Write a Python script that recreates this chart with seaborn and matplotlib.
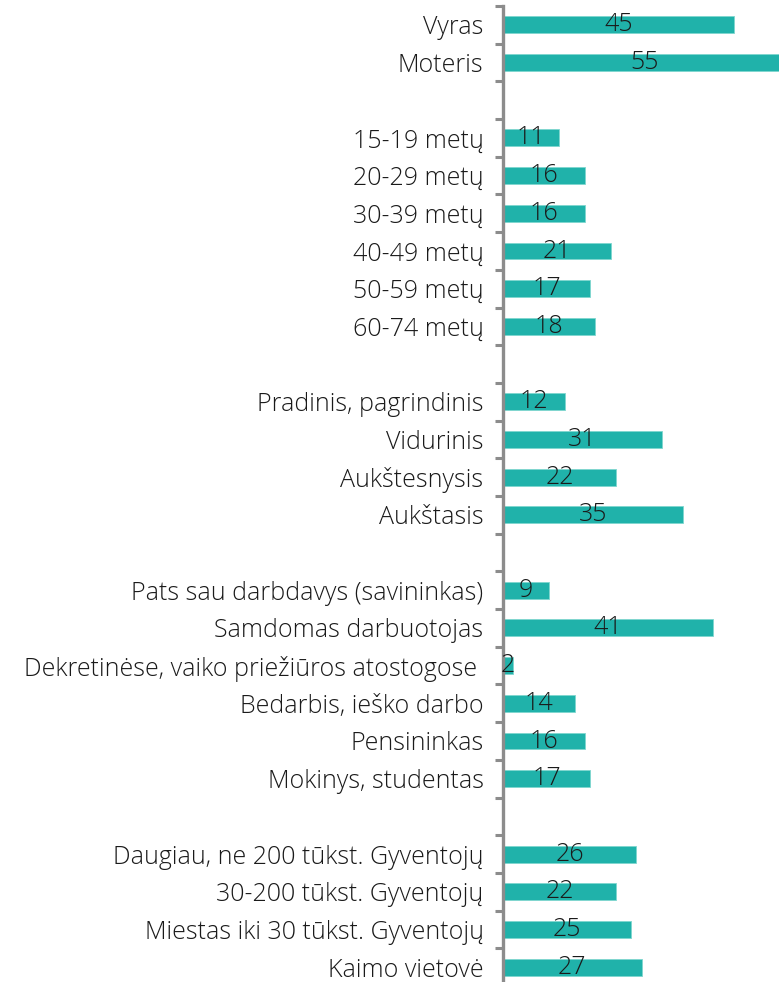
import numpy as np
import pandas as pd
import seaborn as sns
import matplotlib.pyplot as plt
from matplotlib.ticker import FixedLocator

gender = ["Vyras", "Moteris"]
gender_val = [45, 55]
age = ["15-19 metų", "20-29 metų", "30-39 metų", "40-49 metų", "50-59 metų", "60-74 metų"]
age_val = [11, 16, 16, 21, 17, 18]
edu = ["Pradinis, pagrindinis", "Vidurinis", "Aukštesnysis", "Aukštasis"]
edu_val = [12, 31, 22, 35]
work = ["Pats sau darbdavys (savininkas)", "Samdomas darbuotojas",
        "Dekretinėse, vaiko priežiūros atostogose ", "Bedarbis, ieško darbo",
        "Pensininkas", "Mokinys, studentas"]
work_val = [9, 41, 2, 14, 16, 17]
place = ["Daugiau, ne 200 tūkst. Gyventojų", "30-200 tūkst. Gyventojų",
         "Miestas iki 30 tūkst. Gyventojų", "Kaimo vietovė"]
place_val = [26, 22, 25, 27]

groups = [(gender, gender_val), (age, age_val), (edu, edu_val),
          (work, work_val), (place, place_val)]

# blank spacer rows between groups (unique names, zero value)
cats, vals = [], []
for i, (c, v) in enumerate(groups):
    if i > 0:
        cats.append(" " * i)
        vals.append(0)
    cats += c
    vals += v
df = pd.DataFrame({"cat": cats, "val": vals})

sns.set_style("white")
plt.rcParams["font.family"] = ["Open Sans", "DejaVu Sans"]

fig = plt.figure(figsize=(7.79, 9.82), dpi=100)
ax = fig.add_axes([503 / 779, -4 / 982, 1 - 503 / 779, 980 / 982])

sns.barplot(data=df, x="val", y="cat", order=cats, color="#20B2AA",
            width=0.45, saturation=1, ax=ax, edgecolor="#7fd6cf", linewidth=0.6)

ax.set_xlim(0, 53.8)
ax.set_xlabel("")
ax.set_ylabel("")
ax.set_xticks([])

for bar, v in zip(ax.patches, vals):
    if v == 0:
        continue
    ax.text(v / 2, bar.get_y() + bar.get_height() / 2, str(v),
            ha="center", va="center", fontsize=18, color="#1a1a1a",
            fontweight="light")

ax.set_yticks(range(len(cats)))
ax.set_yticklabels(cats, fontsize=18, color="#1a1a1a", fontweight="light")
ax.yaxis.set_minor_locator(FixedLocator(np.arange(-0.5, len(cats), 1.0)))
ax.tick_params(axis="y", which="major", length=0, pad=14)
ax.tick_params(axis="y", which="minor", length=6, width=2.2, color="#8c8c8c",
               left=True, direction="out")

for s in ["top", "right", "bottom"]:
    ax.spines[s].set_visible(False)
ax.spines["left"].set_color("#8c8c8c")
ax.spines["left"].set_linewidth(2.4)
ax.set_ylim(len(cats) - 0.5, -0.5)

fig.savefig("out.png", dpi=100)
